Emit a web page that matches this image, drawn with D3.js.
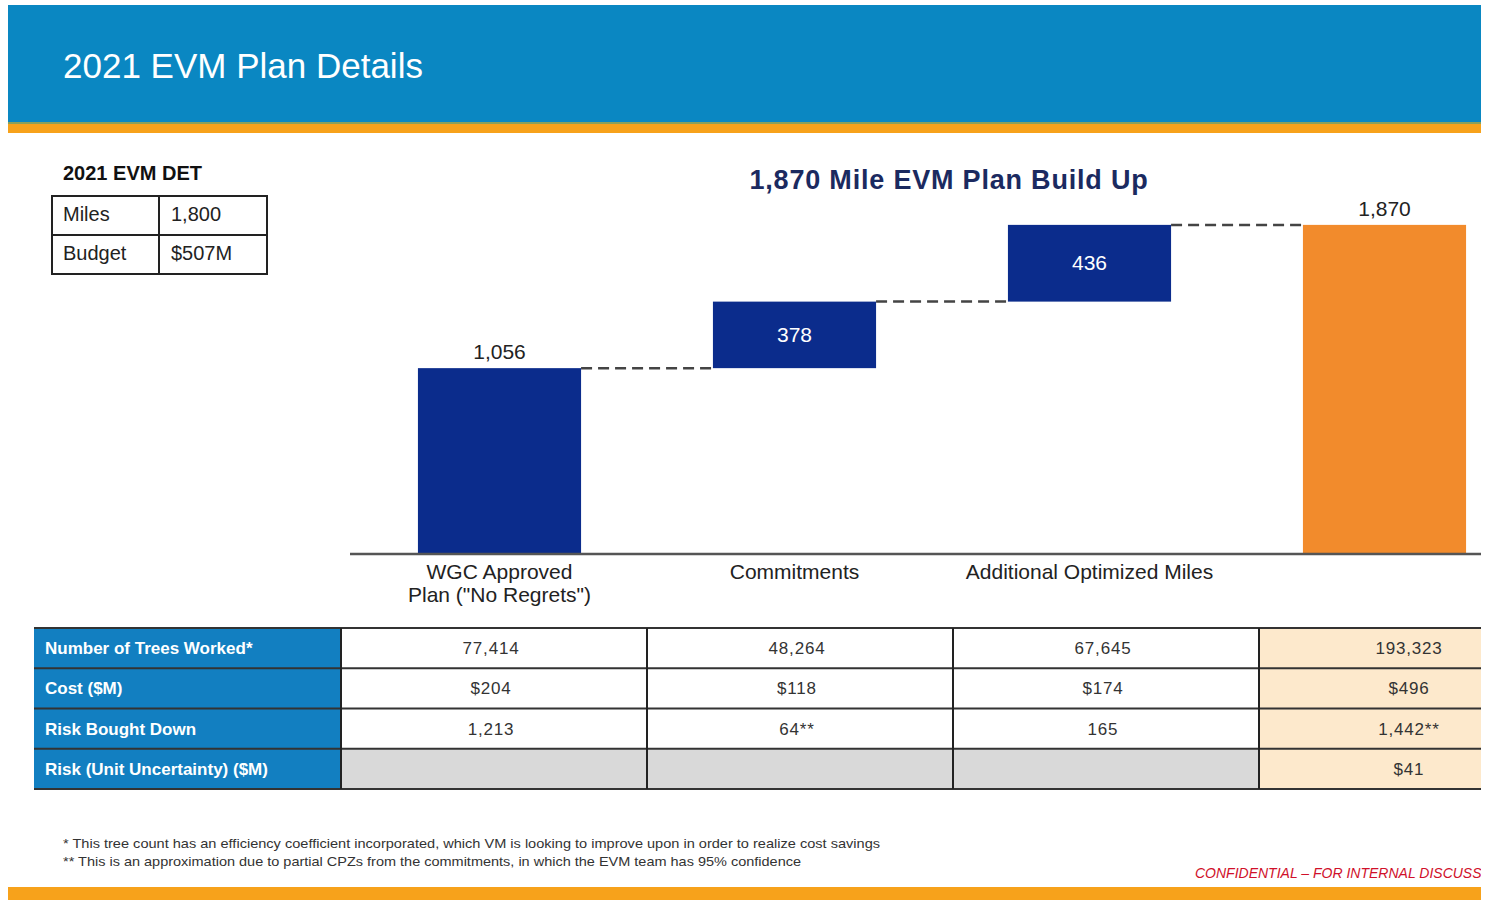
<!DOCTYPE html>
<html>
<head>
<meta charset="utf-8">
<script src="https://cdn.jsdelivr.net/npm/d3@7"></script>
<style>
	body { margin: 0; background: #fff; }
	svg { display: block; }
	text { font-family: "Liberation Sans", Arial, sans-serif; }
	.narrow { font-family: "Liberation Sans Narrow", "Liberation Sans", Arial, sans-serif; }
</style>
</head>
<body>
<div id="slide"></div>
<script>
// chart data
var categories = ["WGC Approved|Plan (\"No Regrets\")", "Commitments", "Additional Optimized Miles", ""];
var stepMiles = [1056, 378, 436];
var totalMiles = 1870;

// small DET table
var detLabels = ["Miles", "Budget"];
var detValues = ["1,800", "$507M"];

// bottom table
var rowLabels = ["Number of Trees Worked*", "Cost ($M)", "Risk Bought Down", "Risk (Unit Uncertainty) ($M)"];
var treesWorked = ["77,414", "48,264", "67,645", "193,323"];
var costM = ["$204", "$118", "$174", "$496"];
var riskBought = ["1,213", "64**", "165", "1,442**"];
var riskUnit = ["", "", "", "$41"];

var footnotes = [
	"* This tree count has an efficiency coefficient incorporated, which VM is looking to improve upon in order to realize cost savings",
	"** This is an approximation due to partial CPZs from the commitments, in which the EVM team has 95% confidence"
];

var width = 1485,
	height = 900,
	slideRight = 1481;

var svg = d3.select("#slide").append("svg")
	.attr("width", width)
	.attr("height", height);

svg.append("clipPath").attr("id", "slideClip")
	.append("rect")
	.attr("x", 0).attr("y", 0)
	.attr("width", slideRight).attr("height", height);

var g = svg.append("g").attr("clip-path", "url(#slideClip)");

// header band
g.append("rect")
	.attr("x", 8).attr("y", 5)
	.attr("width", slideRight - 8).attr("height", 117)
	.attr("fill", "#0a87c2");
g.append("rect")
	.attr("x", 8).attr("y", 122)
	.attr("width", slideRight - 8).attr("height", 2)
	.attr("fill", "#8aa05a");
g.append("rect")
	.attr("x", 8).attr("y", 124)
	.attr("width", slideRight - 8).attr("height", 9)
	.attr("fill", "#f7a21b");
g.append("text")
	.attr("x", 63).attr("y", 78)
	.attr("fill", "#fff")
	.style("font-size", "35px")
	.text("2021 EVM Plan Details");

// footer band
g.append("rect")
	.attr("x", 8).attr("y", 887)
	.attr("width", slideRight - 8).attr("height", 13)
	.attr("fill", "#f7a21b");

// DET table
g.append("text")
	.attr("class", "narrow")
	.attr("x", 63).attr("y", 180)
	.attr("fill", "#111")
	.style("font-size", "20px")
	.style("font-weight", "bold")
	.text("2021 EVM DET");

var detY = d3.scaleBand().domain(d3.range(detLabels.length)).range([196, 274]);
detLabels.forEach(function(lab, i) {
	g.append("rect")
		.attr("x", 52).attr("y", detY(i))
		.attr("width", 107).attr("height", detY.bandwidth())
		.attr("fill", "none").attr("stroke", "#222").attr("stroke-width", 2);
	g.append("rect")
		.attr("x", 159).attr("y", detY(i))
		.attr("width", 108).attr("height", detY.bandwidth())
		.attr("fill", "none").attr("stroke", "#222").attr("stroke-width", 2);
	g.append("text")
		.attr("x", 63).attr("y", detY(i) + 25)
		.attr("fill", "#222")
		.style("font-size", "20px")
		.text(lab);
	g.append("text")
		.attr("x", 171).attr("y", detY(i) + 25)
		.attr("fill", "#222")
		.style("font-size", "20px")
		.text(detValues[i]);
});

// waterfall
g.append("text")
	.attr("x", 949).attr("y", 189)
	.attr("text-anchor", "middle")
	.attr("fill", "#1b2a60")
	.style("font-size", "27px")
	.style("letter-spacing", "0.8px")
	.style("font-weight", "bold")
	.text("1,870 Mile EVM Plan Build Up");

var bars = [];
var cum = 0;
stepMiles.forEach(function(v, i) {
	bars.push({ i: i, start: cum, end: cum + v, value: v, total: false });
	cum += v;
});
bars.push({ i: 3, start: 0, end: totalMiles, value: totalMiles, total: true });

var xScale = d3.scaleBand()
	.domain(d3.range(categories.length))
	.range([352, 1532])
	.paddingInner(0.447)
	.paddingOuter(0.2235);

var yScale = d3.scaleLinear()
	.domain([0, 2000])
	.range([554, 202]);

// connectors
bars.slice(0, 3).forEach(function(d) {
	g.append("line")
		.attr("x1", xScale(d.i) + xScale.bandwidth())
		.attr("x2", xScale(d.i + 1))
		.attr("y1", yScale(d.end))
		.attr("y2", yScale(d.end))
		.attr("stroke", "#444")
		.attr("stroke-width", 2.5)
		.attr("stroke-dasharray", "11,6");
});

g.selectAll("rect.bar")
	.data(bars)
	.enter()
	.append("rect")
	.attr("class", "bar")
	.attr("x", function(d) { return xScale(d.i); })
	.attr("y", function(d) { return yScale(d.end); })
	.attr("width", xScale.bandwidth())
	.attr("height", function(d) { return yScale(d.start) - yScale(d.end); })
	.attr("fill", function(d) { return d.total ? "#f28b2c" : "#0b2c8c"; });

// axis baseline
var xAxis = d3.axisBottom(xScale).tickSize(0).tickFormat("");
var axisG = g.append("g")
	.attr("transform", "translate(0," + yScale(0) + ")")
	.call(xAxis);
axisG.select(".domain").remove();
axisG.append("line")
	.attr("x1", 350).attr("x2", slideRight)
	.attr("y1", 0).attr("y2", 0)
	.attr("stroke", "#555").attr("stroke-width", 2.5);

// value labels
g.selectAll("text.val")
	.data(bars)
	.enter()
	.append("text")
	.attr("class", "val narrow")
	.attr("x", function(d) { return xScale(d.i) + xScale.bandwidth() / 2; })
	.attr("y", function(d) {
		if (d.i === 0 || d.total) return yScale(d.end) - 9;
		return (yScale(d.start) + yScale(d.end)) / 2 + 7;
	})
	.attr("text-anchor", "middle")
	.attr("fill", function(d) { return (d.i === 0 || d.total) ? "#222" : "#fff"; })
	.style("font-size", "21px")
	.text(function(d) { return d3.format(",")(d.value); });

// category labels
categories.forEach(function(c, i) {
	c.split("|").forEach(function(line, j) {
		g.append("text")
			.attr("class", "narrow")
			.attr("x", xScale(i) + xScale.bandwidth() / 2)
			.attr("y", 579 + j * 23)
			.attr("text-anchor", "middle")
			.attr("fill", "#222")
			.style("font-size", "21px")
			.text(line);
	});
});

// bottom table
var tableRows = [treesWorked, costM, riskBought, riskUnit];
var colX = d3.scaleBand().domain(d3.range(4)).range([341, 341 + 4 * 306]);
var rowY = d3.scaleBand().domain(d3.range(rowLabels.length)).range([628, 789]);

rowLabels.forEach(function(lab, r) {
	g.append("rect")
		.attr("x", 34).attr("y", rowY(r))
		.attr("width", 307).attr("height", rowY.bandwidth())
		.attr("fill", "#127fc1");
	g.append("text")
		.attr("x", 45).attr("y", rowY(r) + 26)
		.attr("fill", "#fff")
		.style("font-size", "17px")
		.style("font-weight", "bold")
		.text(lab);
	tableRows[r].forEach(function(val, c) {
		var fill = c === 3 ? "#fde9cc" : (r === 3 ? "#d9d9d9" : "#fff");
		g.append("rect")
			.attr("x", colX(c)).attr("y", rowY(r))
			.attr("width", colX.bandwidth()).attr("height", rowY.bandwidth())
			.attr("fill", fill);
		g.append("text")
			.attr("x", colX(c) + colX.bandwidth() / 2 - 3)
			.attr("y", rowY(r) + 26)
			.attr("text-anchor", "middle")
			.attr("fill", "#333")
			.style("font-size", "17px")
			.style("letter-spacing", "0.8px")
			.text(val);
	});
});

// grid lines
d3.range(rowLabels.length + 1).forEach(function(r) {
	var y = r < rowLabels.length ? rowY(r) : 789;
	g.append("line")
		.attr("x1", 34).attr("x2", slideRight)
		.attr("y1", y).attr("y2", y)
		.attr("stroke", "#333").attr("stroke-width", 2);
});
d3.range(4).forEach(function(c) {
	g.append("line")
		.attr("x1", colX(c)).attr("x2", colX(c))
		.attr("y1", 628).attr("y2", 789)
		.attr("stroke", "#222").attr("stroke-width", 2);
});

// footnotes
var noteLen = [817, 738];
footnotes.forEach(function(f, i) {
	g.append("text")
		.attr("class", "narrow")
		.attr("x", 63).attr("y", 848 + i * 18)
		.attr("fill", "#333")
		.attr("textLength", noteLen[i])
		.attr("lengthAdjust", "spacingAndGlyphs")
		.style("font-size", "13px")
		.text(f);
});

// confidentiality note, cut by the slide edge as in the original
g.append("text")
	.attr("x", 1195).attr("y", 878)
	.attr("fill", "#d0102a")
	.style("font-size", "14px")
	.style("font-style", "italic")
	.text("CONFIDENTIAL \u2013 FOR INTERNAL DISCUSSION");
</script>
</body>
</html>
